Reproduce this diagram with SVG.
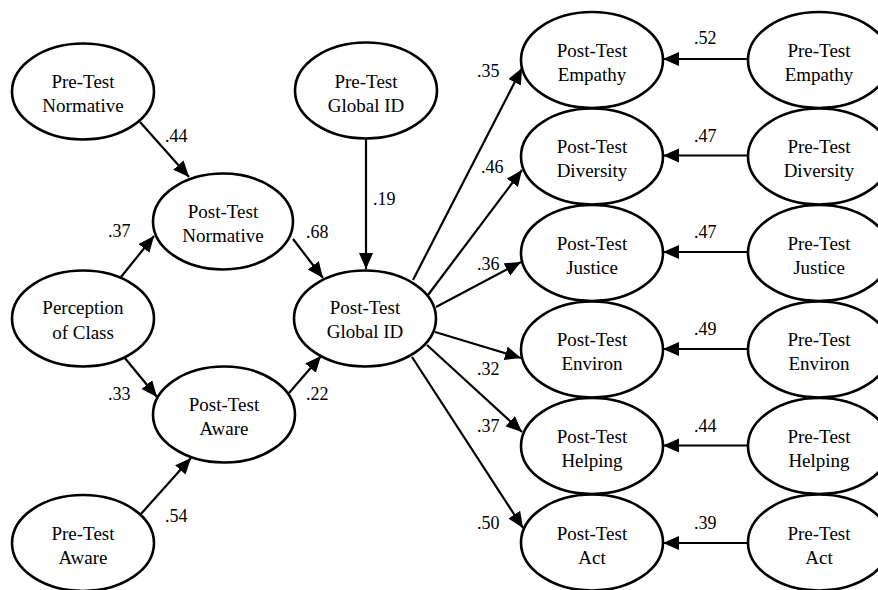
<svg xmlns="http://www.w3.org/2000/svg" width="878" height="590" viewBox="0 0 878 590">
<style>
.n ellipse{fill:#fff;stroke:#000;stroke-width:2.6}
.e line{stroke:#000;stroke-width:2.2;marker-end:url(#ah)}
</style>
<defs>
<marker id="ah" markerUnits="userSpaceOnUse" markerWidth="17" markerHeight="15" refX="16" refY="7" orient="auto">
<path d="M0,0 L16,7 L0,14 z" fill="#000"/>
</marker>
</defs>
<rect width="878" height="590" fill="#fff"/>
<g id="connectors" class="e">
<line x1="140" y1="122" x2="189" y2="177"/>
<line x1="121" y1="277" x2="154" y2="236"/>
<line x1="124" y1="357" x2="157" y2="397"/>
<line x1="140" y1="515" x2="191" y2="458"/>
<line x1="289" y1="393" x2="321" y2="356"/>
<line x1="293" y1="239" x2="323" y2="278"/>
<line x1="366" y1="139" x2="366" y2="269"/>
<line x1="413" y1="280" x2="522" y2="68"/>
<line x1="428" y1="295" x2="522" y2="170"/>
<line x1="436" y1="307" x2="521" y2="262"/>
<line x1="435" y1="332" x2="521" y2="358"/>
<line x1="427" y1="345" x2="522" y2="432"/>
<line x1="412" y1="357" x2="523" y2="528"/>
<line x1="748" y1="59" x2="663" y2="59"/>
<line x1="748" y1="155.5" x2="663" y2="155.5"/>
<line x1="748" y1="252" x2="663" y2="252"/>
<line x1="748" y1="349" x2="663" y2="349"/>
<line x1="748" y1="445.5" x2="663" y2="445.5"/>
<line x1="748" y1="543" x2="663" y2="543"/>
</g>
<g id="pre-normative" class="n"><ellipse cx="83" cy="91.5" rx="71" ry="48"/><text x="83" y="88" font-family="Liberation Serif" font-size="19" text-anchor="middle">Pre-Test</text><text x="83" y="112" font-family="Liberation Serif" font-size="19" text-anchor="middle">Normative</text></g>
<g id="post-normative" class="n"><ellipse cx="223" cy="221.5" rx="70" ry="48"/><text x="223" y="218" font-family="Liberation Serif" font-size="19" text-anchor="middle">Post-Test</text><text x="223" y="242" font-family="Liberation Serif" font-size="19" text-anchor="middle">Normative</text></g>
<g id="perception" class="n"><ellipse cx="83" cy="318.5" rx="71" ry="48"/><text x="83" y="314" font-family="Liberation Serif" font-size="19" text-anchor="middle">Perception</text><text x="83" y="339" font-family="Liberation Serif" font-size="19" text-anchor="middle">of Class</text></g>
<g id="post-aware" class="n"><ellipse cx="224" cy="414.5" rx="71" ry="48"/><text x="224" y="411" font-family="Liberation Serif" font-size="19" text-anchor="middle">Post-Test</text><text x="224" y="435" font-family="Liberation Serif" font-size="19" text-anchor="middle">Aware</text></g>
<g id="pre-aware" class="n"><ellipse cx="83" cy="543" rx="71" ry="48"/><text x="83" y="540" font-family="Liberation Serif" font-size="19" text-anchor="middle">Pre-Test</text><text x="83" y="564" font-family="Liberation Serif" font-size="19" text-anchor="middle">Aware</text></g>
<g id="pre-global" class="n"><ellipse cx="366" cy="90.5" rx="71" ry="48"/><text x="366" y="88" font-family="Liberation Serif" font-size="19" text-anchor="middle">Pre-Test</text><text x="366" y="112" font-family="Liberation Serif" font-size="19" text-anchor="middle">Global ID</text></g>
<g id="post-global" class="n"><ellipse cx="365" cy="318.5" rx="71" ry="48"/><text x="365" y="314" font-family="Liberation Serif" font-size="19" text-anchor="middle">Post-Test</text><text x="365" y="338" font-family="Liberation Serif" font-size="19" text-anchor="middle">Global ID</text></g>
<g id="post-empathy" class="n"><ellipse cx="592" cy="60" rx="71" ry="48"/><text x="592" y="57" font-family="Liberation Serif" font-size="19" text-anchor="middle">Post-Test</text><text x="592" y="81" font-family="Liberation Serif" font-size="19" text-anchor="middle">Empathy</text></g>
<g id="post-diversity" class="n"><ellipse cx="592" cy="156.5" rx="71" ry="48"/><text x="592" y="153" font-family="Liberation Serif" font-size="19" text-anchor="middle">Post-Test</text><text x="592" y="177" font-family="Liberation Serif" font-size="19" text-anchor="middle">Diversity</text></g>
<g id="post-justice" class="n"><ellipse cx="592" cy="253" rx="71" ry="48"/><text x="592" y="250" font-family="Liberation Serif" font-size="19" text-anchor="middle">Post-Test</text><text x="592" y="274" font-family="Liberation Serif" font-size="19" text-anchor="middle">Justice</text></g>
<g id="post-environ" class="n"><ellipse cx="592" cy="349.5" rx="71" ry="48"/><text x="592" y="346" font-family="Liberation Serif" font-size="19" text-anchor="middle">Post-Test</text><text x="592" y="370" font-family="Liberation Serif" font-size="19" text-anchor="middle">Environ</text></g>
<g id="post-helping" class="n"><ellipse cx="592" cy="446" rx="71" ry="48"/><text x="592" y="443" font-family="Liberation Serif" font-size="19" text-anchor="middle">Post-Test</text><text x="592" y="467" font-family="Liberation Serif" font-size="19" text-anchor="middle">Helping</text></g>
<g id="post-act" class="n"><ellipse cx="592" cy="542.5" rx="71" ry="48"/><text x="592" y="540" font-family="Liberation Serif" font-size="19" text-anchor="middle">Post-Test</text><text x="592" y="564" font-family="Liberation Serif" font-size="19" text-anchor="middle">Act</text></g>
<g id="pre-empathy" class="n"><ellipse cx="819" cy="60" rx="71" ry="48"/><text x="819" y="57" font-family="Liberation Serif" font-size="19" text-anchor="middle">Pre-Test</text><text x="819" y="81" font-family="Liberation Serif" font-size="19" text-anchor="middle">Empathy</text></g>
<g id="pre-diversity" class="n"><ellipse cx="819" cy="156.5" rx="71" ry="48"/><text x="819" y="153" font-family="Liberation Serif" font-size="19" text-anchor="middle">Pre-Test</text><text x="819" y="177" font-family="Liberation Serif" font-size="19" text-anchor="middle">Diversity</text></g>
<g id="pre-justice" class="n"><ellipse cx="819" cy="253" rx="71" ry="48"/><text x="819" y="250" font-family="Liberation Serif" font-size="19" text-anchor="middle">Pre-Test</text><text x="819" y="274" font-family="Liberation Serif" font-size="19" text-anchor="middle">Justice</text></g>
<g id="pre-environ" class="n"><ellipse cx="819" cy="349.5" rx="71" ry="48"/><text x="819" y="346" font-family="Liberation Serif" font-size="19" text-anchor="middle">Pre-Test</text><text x="819" y="370" font-family="Liberation Serif" font-size="19" text-anchor="middle">Environ</text></g>
<g id="pre-helping" class="n"><ellipse cx="819" cy="446" rx="71" ry="48"/><text x="819" y="443" font-family="Liberation Serif" font-size="19" text-anchor="middle">Pre-Test</text><text x="819" y="467" font-family="Liberation Serif" font-size="19" text-anchor="middle">Helping</text></g>
<g id="pre-act" class="n"><ellipse cx="819" cy="542.5" rx="71" ry="48"/><text x="819" y="540" font-family="Liberation Serif" font-size="19" text-anchor="middle">Pre-Test</text><text x="819" y="564" font-family="Liberation Serif" font-size="19" text-anchor="middle">Act</text></g>
<g id="labels">
<text x="165" y="142" font-family="Liberation Serif" font-size="18">.44</text>
<text x="108" y="237" font-family="Liberation Serif" font-size="18">.37</text>
<text x="306" y="238" font-family="Liberation Serif" font-size="18">.68</text>
<text x="373" y="205" font-family="Liberation Serif" font-size="18">.19</text>
<text x="108" y="400" font-family="Liberation Serif" font-size="18">.33</text>
<text x="306" y="400" font-family="Liberation Serif" font-size="18">.22</text>
<text x="165" y="522" font-family="Liberation Serif" font-size="18">.54</text>
<text x="477" y="77" font-family="Liberation Serif" font-size="18">.35</text>
<text x="481" y="173" font-family="Liberation Serif" font-size="18">.46</text>
<text x="477" y="270" font-family="Liberation Serif" font-size="18">.36</text>
<text x="477" y="375" font-family="Liberation Serif" font-size="18">.32</text>
<text x="477" y="432" font-family="Liberation Serif" font-size="18">.37</text>
<text x="477" y="529" font-family="Liberation Serif" font-size="18">.50</text>
<text x="694" y="44" font-family="Liberation Serif" font-size="18">.52</text>
<text x="694" y="142" font-family="Liberation Serif" font-size="18">.47</text>
<text x="694" y="238" font-family="Liberation Serif" font-size="18">.47</text>
<text x="694" y="335" font-family="Liberation Serif" font-size="18">.49</text>
<text x="694" y="432" font-family="Liberation Serif" font-size="18">.44</text>
<text x="694" y="529" font-family="Liberation Serif" font-size="18">.39</text>
</g>
</svg>
